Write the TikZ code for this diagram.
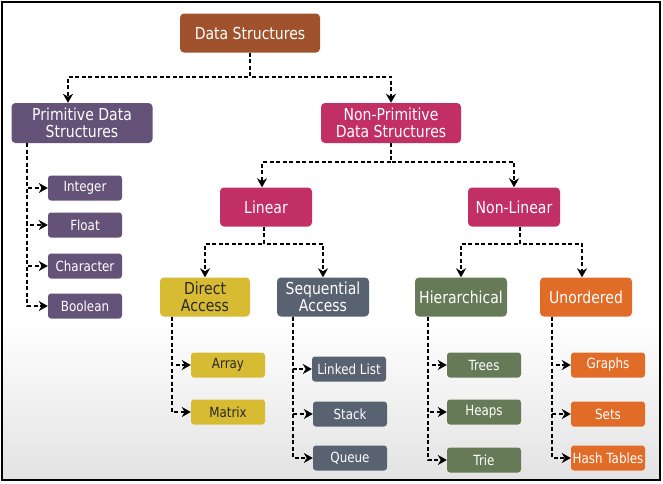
\documentclass[tikz,border=0pt]{standalone}
\usepackage{fontspec}
\setmainfont{DejaVu Sans}[FakeStretch=0.85]
\usetikzlibrary{arrows.meta,positioning}
\definecolor{dsbrown}{RGB}{160,82,45}
\definecolor{dspurple}{RGB}{100,82,120}
\definecolor{dscrimson}{RGB}{194,47,100}
\definecolor{dsyellow}{RGB}{215,187,50}
\definecolor{dsslate}{RGB}{88,98,112}
\definecolor{dsgreen}{RGB}{102,122,88}
\definecolor{dsorange}{RGB}{225,108,40}
\definecolor{dsdark}{RGB}{40,40,40}

\begin{document}
\begin{tikzpicture}[x=1pt,y=-1pt,
  catnode/.style={rounded corners=4pt, text=white, align=center,
    font=\fontsize{16.5}{17.5}\selectfont, inner sep=2pt,
    minimum width=92pt, minimum height=39pt},
  leafnode/.style={rounded corners=3pt, text=white,
    font=\fontsize{14}{15}\selectfont, inner sep=0.5pt,
    minimum width=74pt, minimum height=25pt},
  arr/.style={-{Stealth[length=9pt,width=10pt]}, line width=2pt,
    dash pattern=on 4pt off 2.5pt}]
\useasboundingbox (0,0) rectangle (663,483);
% Background and frame
\fill[white] (0,0) rectangle (663,483);
\shade[top color=white, bottom color=black!11] (3,320) rectangle (660,479);
\draw[line width=2.5pt] (2,2) rectangle (660,480);
% Top levels
\node[catnode, fill=dsbrown, minimum width=140pt] (ds) at (250,33) {Data Structures};
\node[catnode, fill=dspurple, minimum width=141pt, minimum height=40pt] (prim) at (82,123) {Primitive Data\\Structures};
\node[catnode, fill=dscrimson, minimum width=140pt, minimum height=40pt] (nprim) at (391,123) {Non-Primitive\\Data Structures};
\node[catnode, fill=dscrimson] (lin) at (266,207) {Linear};
\node[catnode, fill=dscrimson] (nlin) at (514,207) {Non-Linear};
\node[catnode, fill=dsyellow, text=dsdark, minimum width=90pt] (dir) at (205,297) {Direct\\Access};
\node[catnode, fill=dsslate] (seq) at (323,297) {Sequential\\Access};
\node[catnode, fill=dsgreen] (hier) at (461,297) {Hierarchical};
\node[catnode, fill=dsorange] (unord) at (586,297) {Unordered};
% Primitive types
\node[leafnode, fill=dspurple] (int) at (85,188) {Integer};
\node[leafnode, fill=dspurple] (flt) at (85,225) {Float};
\node[leafnode, fill=dspurple] (chr) at (85,266) {Character};
\node[leafnode, fill=dspurple] (bln) at (85,306) {Boolean};
% Leaves
\node[leafnode, fill=dsyellow, text=dsdark] (arr1) at (228,365) {Array};
\node[leafnode, fill=dsyellow, text=dsdark] (mat) at (228,412) {Matrix};
\node[leafnode, fill=dsslate] (llist) at (349,369) {Linked List};
\node[leafnode, fill=dsslate] (stk) at (350,414) {Stack};
\node[leafnode, fill=dsslate] (que) at (350,458) {Queue};
\node[leafnode, fill=dsgreen] (tree) at (484,365) {Trees};
\node[leafnode, fill=dsgreen] (heap) at (484,412) {Heaps};
\node[leafnode, fill=dsgreen] (trie) at (484,460) {Trie};
\node[leafnode, fill=dsorange] (graph) at (608,365) {Graphs};
\node[leafnode, fill=dsorange] (sets) at (608,414) {Sets};
\node[leafnode, fill=dsorange] (hash) at (608,458) {Hash Tables};
% Tree connectors
\draw[arr] (ds.south) -- ++(0,24) -| ([xshift=-14pt]prim.north);
\draw[arr] (ds.south) -- ++(0,24) -| (nprim.north);
\draw[arr] (nprim.south) -- ++(0,19) -| ([xshift=-4pt]lin.north);
\draw[arr] (nprim.south) -- ++(0,19) -| (nlin.north);
\draw[arr] ([xshift=-2pt]lin.south) -- ++(0,17) -| (dir.north);
\draw[arr] ([xshift=-2pt]lin.south) -- ++(0,17) -| (seq.north);
\draw[arr] ([xshift=6pt]nlin.south) -- ++(0,17) -| (hier.north);
\draw[arr] ([xshift=6pt]nlin.south) -- ++(0,17) -| ([xshift=-4pt]unord.north);
% Side lists
\foreach \n in {int,flt,chr,bln}
  \draw[arr] ([xshift=16pt]prim.south west) |- (\n.west);
\foreach \n in {arr1,mat}
  \draw[arr] ([xshift=12pt]dir.south west) |- (\n.west);
\foreach \n in {llist,stk,que}
  \draw[arr] ([xshift=16pt]seq.south west) |- (\n.west);
\foreach \n in {tree,heap,trie}
  \draw[arr] ([xshift=13pt]hier.south west) |- (\n.west);
\foreach \n in {graph,sets,hash}
  \draw[arr] ([xshift=12pt]unord.south west) |- (\n.west);
\end{tikzpicture}
\end{document}
